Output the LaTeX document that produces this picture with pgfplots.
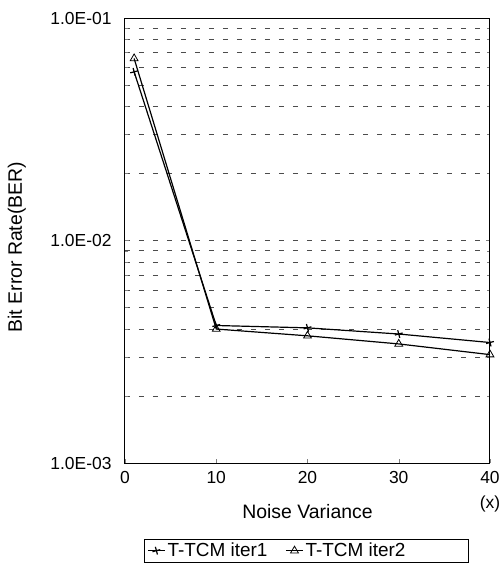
\documentclass[border=0pt]{standalone}
\usepackage{fontspec}
\setmainfont{Liberation Sans}
\usepackage{pgfplots}
\pgfplotsset{compat=1.18}
\begin{document}
\begin{tikzpicture}
\begin{axis}[
    ymode=log,
    scale only axis,
    width=365bp, height=445bp,
    xmin=0, xmax=40, ymin=1e-3, ymax=1e-1,
    xtick={0,10,20,30,40},
    ytick={1e-3,1e-2,1e-1},
    yticklabels={1.0E-03,1.0E-02,1.0E-01},
    minor ytick={2e-3,3e-3,4e-3,5e-3,6e-3,7e-3,8e-3,9e-3,2e-2,3e-2,4e-2,5e-2,6e-2,7e-2,8e-2,9e-2},
    ymajorgrids, yminorgrids,
    major grid style={black!70, dashed, dash pattern=on 5bp off 9bp},
    minor grid style={black!70, dashed, dash pattern=on 5bp off 9bp},
    tick align=inside, major tick length=4bp, minor tick length=3bp,
    xtick pos=bottom, ytick pos=both,
    axis line style={line width=1bp},
    font=\fontsize{17.5}{20}\selectfont,
    /pgf/number format/assume math mode=true,
    xticklabel style={yshift=-5bp},
    yticklabel style={xshift=-10bp},
    xlabel={Noise Variance},
    every axis x label/.style={at={(axis description cs:0.5,-0.11)}, anchor=center, font=\fontsize{19.5}{22}\selectfont},
    ylabel={Bit Error Rate(BER)},
    every axis y label/.style={at={(axis description cs:-0.296,0.485)}, anchor=center, rotate=90, font=\fontsize{19.5}{22}\selectfont},
    clip=false,
    legend columns=2,
    legend style={at={(axis description cs:0.497,-0.197)}, anchor=center, draw=black, line width=0.8bp,
        font=\fontsize{19}{22}\selectfont, inner xsep=3bp, inner ysep=2bp,
        /tikz/every even column/.append style={column sep=16bp}},
    legend cell align=left,
]
\addplot[black, line width=1.2bp, mark=+, mark size=4bp, mark options={rotate=15, line width=1.2bp}]
    coordinates {(1,0.0573) (10,0.00415) (20,0.00405) (30,0.0038) (40,0.00348)};
\addlegendentry{T-TCM iter1}
\addplot[black, line width=1.2bp, mark=triangle, mark size=4.5bp, mark options={solid, line width=0.8bp}]
    coordinates {(1,0.0658) (10,0.0040) (20,0.00373) (30,0.00343) (40,0.00307)};
\addlegendentry{T-TCM iter2\rule{58bp}{0pt}}
\node[anchor=center, font=\fontsize{17.5}{20}\selectfont] at (axis description cs:1.0,-0.093) {(x)};
\coordinate (bl) at ([shift={(-125bp,-104bp)}]rel axis cs:0,0);
\coordinate (tr) at ([shift={(12bp,18bp)}]rel axis cs:1,1);
\end{axis}
\pgfresetboundingbox
\path (bl) rectangle (tr);
\end{tikzpicture}
\end{document}
